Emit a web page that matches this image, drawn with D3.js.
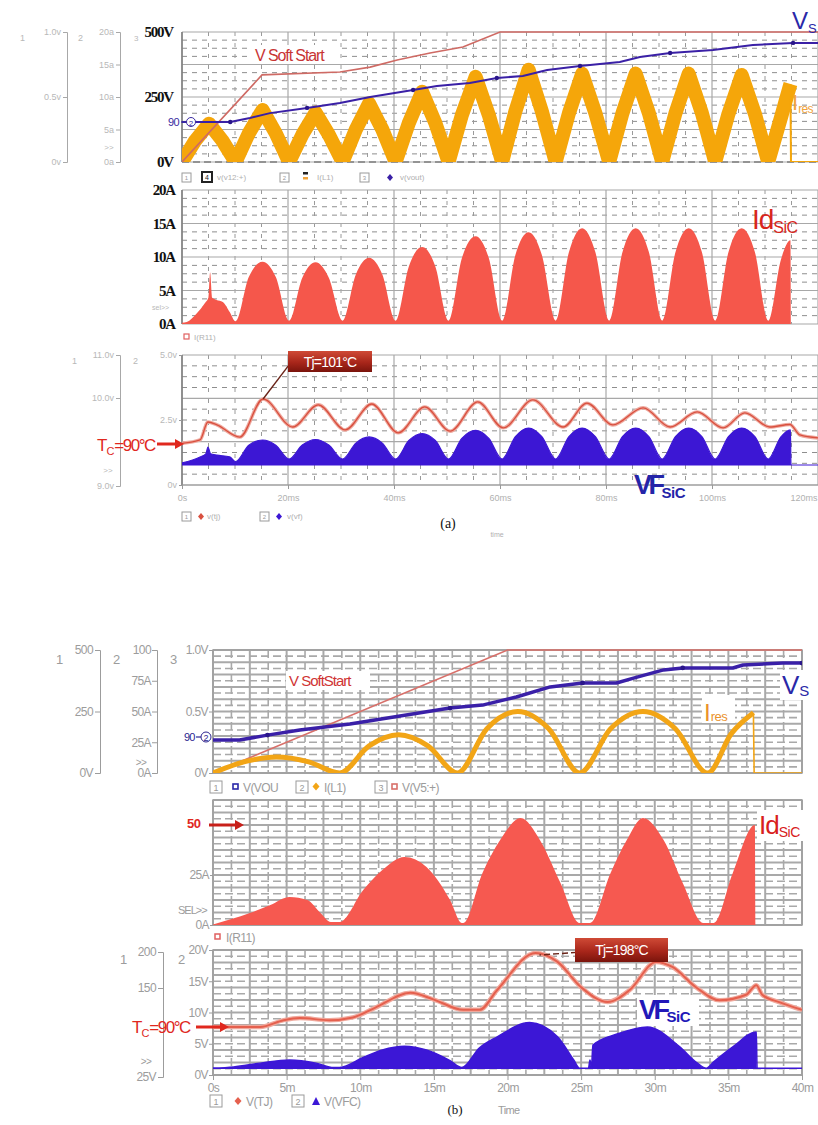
<!DOCTYPE html>
<html><head><meta charset="utf-8">
<script src="https://cdn.jsdelivr.net/npm/d3@7/dist/d3.min.js"></script>
<style>
html,body{margin:0;padding:0;background:#fff;}
svg{display:block;}
</style></head>
<body>
<svg id="fig" width="818" height="1125" xmlns="http://www.w3.org/2000/svg"></svg>
<script>
// ---------------- time-axis ticks ----------------
const ticksA = [0, 20, 40, 60, 80, 100, 120];          // ms, panel (a)
const ticksB = [0, 5, 10, 15, 20, 25, 30, 35, 40];     // ms, panel (b)

// ---------------- panel (a): [time ms, value] ----------------
const softStartA = [[0,0],[15.1,335],[29.8,346],[35.5,365],[40.6,392],[46.8,419],[53,442],[60,500],[120,500]]; // V
const vsA = [[0,154],[9.1,154],[12.8,169],[16.6,188],[23.6,208],[29.8,227],[35.5,250],[43.6,277],[48.1,292],[54.3,304],[59.4,323],[64.3,331],[68.9,354],[75.1,369],[82.6,385],[86.4,404],[92.1,419],[100.2,431],[107.7,450],[115.3,458],[120,458]]; // V
const iresA = [[0,0],[2.5,3.3],[5.1,5.9],[7.6,3.3],[10.1,0],[12.6,4.4],[15.2,8.0],[17.7,4.4],[20.2,0],[22.7,4.2],[25.2,7.6],[27.7,4.2],[30.3,0],[32.8,5.0],[35.3,9.0],[37.8,5.0],[40.3,0],[42.8,6.0],[45.3,10.8],[47.8,6.0],[50.3,0],[52.8,7.2],[55.4,13.1],[57.9,7.2],[60.4,0],[62.9,7.8],[65.4,14.2],[67.9,7.8],[70.5,0],[73.0,7.5],[75.5,13.6],[78.0,7.5],[80.6,0],[83.1,7.5],[85.6,13.6],[88.1,7.5],[90.6,0],[93.1,7.5],[95.6,13.6],[98.1,7.5],[100.6,0],[103.1,7.4],[105.6,13.4],[108.1,7.4],[110.6,0],[113.0,6.8],[114.8,12.0]]; // A envelope
const iresTailA = [[114.8,12.0],[114.9,0],[120,0]]; // A
const idA = [[0,0.2],[0.9,0.3],[2.8,1.6],[4.3,3.1],[5.0,4.0],[5.3,7.7],[5.7,3.9],[6.5,3.6],[7.7,3.3],[9.0,1.8],[10.1,0.4],[12.6,7.0],[15.2,9.3],[17.7,7.0],[20.2,0.5],[22.7,6.9],[25.2,9.2],[27.7,6.9],[30.3,0.5],[32.8,7.4],[35.3,9.9],[37.8,7.4],[40.3,0.5],[42.8,8.6],[45.3,11.5],[47.8,8.6],[50.3,0.5],[52.8,9.8],[55.4,13.1],[57.9,9.8],[60.4,0.5],[62.9,10.3],[65.4,13.7],[67.9,10.3],[70.5,0.5],[73.0,10.7],[75.5,14.3],[78.0,10.7],[80.6,0.5],[83.1,10.7],[85.6,14.3],[88.1,10.7],[90.6,0.5],[93.1,10.7],[95.6,14.3],[98.1,10.7],[100.6,0.5],[103.1,10.7],[105.6,14.3],[108.1,10.7],[110.6,0.5],[113.0,9.6],[114.8,12.5],[114.9,0],[120,0]]; // A
const vfA = [[0,0.85],[3.4,1.08],[4.5,1.2],[4.9,1.46],[5.4,1.2],[6.6,1.15],[9.0,1.08],[10.1,0.9],[12.6,1.53],[15.2,1.73],[17.7,1.53],[20.2,1.0],[22.7,1.54],[25.2,1.75],[27.7,1.54],[30.3,1.0],[32.8,1.61],[35.3,1.85],[37.8,1.61],[40.3,1.0],[42.8,1.71],[45.3,1.98],[47.8,1.71],[50.3,1.0],[52.8,1.79],[55.4,2.1],[57.9,1.79],[60.4,1.0],[62.9,1.86],[65.4,2.19],[67.9,1.86],[70.5,1.0],[73.0,1.86],[75.5,2.19],[78.0,1.86],[80.6,1.0],[83.1,1.86],[85.6,2.19],[88.1,1.86],[90.6,1.0],[93.1,1.86],[95.6,2.19],[98.1,1.86],[100.6,1.0],[103.1,1.86],[105.6,2.19],[108.1,1.86],[110.6,1.0],[113.0,1.85],[114.8,2.12],[114.9,0.77],[120,0.77]]; // V
const vfBaseA = 0.77; // V
const tjA = [[0,90.4],[3.4,91.2],[4.9,95.5],[6.6,94.8],[10.9,91.9],[15.3,101],[20.9,94.3],[25.7,99.6],[30.8,93.6],[35.8,99.8],[40.8,92.9],[45.8,99.1],[50.6,93.3],[55.8,100.3],[60.6,94.1],[66.2,100.8],[71.9,94.3],[76.4,100.0],[81.3,94.8],[87.0,98.9],[92.1,94.3],[97.2,97.9],[102.1,94.1],[106.2,97.7],[110.9,94.3],[114.7,94.9],[116.6,92.4],[120,91.7]]; // degC
const tjPeakA = 101, tcA = 90;

// ---------------- panel (b): [time ms, value] ----------------
const softStartB = [[0,0],[20,1.0],[40,1.0]]; // V
const vsB = [[0,134],[1.8,134],[3.7,154],[5.9,175],[9.3,199],[12.7,232],[16.1,264],[18.3,276],[20.6,309],[22.9,350],[25.1,366],[27.4,366],[28.8,390],[30.6,419],[31.9,427],[35.3,427],[36.0,439],[38.7,447],[40,447]]; // V
const iresB = [[0,0],[2.1,9],[4.3,13],[6.5,9],[8.6,0],[10.6,22],[12.6,31],[14.6,22],[16.6,0],[18.6,36],[20.7,50],[22.8,36],[24.9,0],[27.0,36],[29.2,50],[31.4,36],[33.6,0],[35.2,32],[36.7,49]]; // A
const iresTailB = [[36.7,49],[36.75,0],[40,0]]; // A
const idB = [[0,0.3],[2.5,6],[3.9,10],[5.2,14],[6.4,12.5],[7.3,6],[8.0,1.5],[8.6,1.5],[10.2,17.5],[11.5,27.5],[13.0,34],[14.5,29],[16.1,12.5],[16.9,1],[17.0,1],[18.3,26],[19.5,42.5],[20.9,53.5],[22.2,42.5],[23.6,21],[24.9,1],[25.6,1],[27.0,26],[28.1,42.5],[29.2,53.5],[30.6,42.5],[31.9,21],[33.3,1],[34.0,1],[35.3,26],[36.8,50],[36.85,0],[40,0]]; // A
const vfB = [[0,1.1],[1.4,1.3],[3.2,1.9],[5.2,2.4],[7.0,1.9],[8.2,1.2],[8.6,1.2],[10.2,2.8],[11.5,4.0],[13.0,4.6],[14.5,4.0],[16.1,2.3],[16.9,1.2],[18.1,4.35],[19.3,6.1],[21.5,8.4],[23.4,6.1],[24.5,2.4],[24.9,1.1],[25.5,1.1],[25.6,2.4],[25.7,1.2],[25.8,4.8],[27.5,6.6],[29.5,7.7],[31.7,4.5],[32.9,1.9],[33.5,1.1],[34.0,2.1],[35.3,4.5],[36.9,6.9],[36.95,1.1],[40,1.1]]; // V
const vfBaseB = 1.1; // V
const tjB = [[0,90],[3.2,90],[4.8,100],[5.9,103],[7.9,100],[9.5,104],[11,118],[13.4,140],[15,130],[17,115],[18.1,115],[19.3,144],[21.9,198],[23.4,185],[25,148],[26.8,126.5],[28.3,144],[30.1,185],[31.2,177.6],[32.8,148],[34.4,129],[36.2,137],[36.9,151],[37.3,137],[38.5,126],[40,115]]; // degC
const tjPeakB = 198, tcB = 90, idMarkB = 50;

// ---------------- helpers ----------------
const SANS = "'Liberation Sans', Arial, Helvetica, sans-serif";
const SERIF = "'Liberation Serif', 'Times New Roman', serif";
const svg = d3.select('#fig');
const defs = svg.append('defs');
let clipN = 0;
function clipRect(x0, y0, x1, y1) {
  const id = 'clip' + (clipN++);
  defs.append('clipPath').attr('id', id).append('rect')
    .attr('x', x0).attr('y', y0).attr('width', x1 - x0).attr('height', y1 - y0);
  return 'url(#' + id + ')';
}
const grad = defs.append('linearGradient').attr('id', 'tjBox').attr('x1', 0).attr('y1', 0).attr('x2', 0).attr('y2', 1);
grad.append('stop').attr('offset', '0%').attr('stop-color', '#cf4a36');
grad.append('stop').attr('offset', '55%').attr('stop-color', '#a8261a');
grad.append('stop').attr('offset', '100%').attr('stop-color', '#7a140c');

function line(g, x1, y1, x2, y2, st) {
  return g.append('line').attr('x1', x1).attr('y1', y1).attr('x2', x2).attr('y2', y2)
    .attr('stroke', st.c).attr('stroke-width', st.w).attr('stroke-dasharray', st.d || null);
}
function grid(g, xs, ys, xMaj, xMin, yMaj, yMin, stMaj, stMinH, stMinV) {
  const [x0, x1] = xs.range();
  const yTop = ys.range()[1], yBot = ys.range()[0];
  yMin.forEach(v => line(g, x0, ys(v), x1, ys(v), stMinH));
  xMin.forEach(v => line(g, xs(v), yTop, xs(v), yBot, stMinV));
  yMaj.forEach(v => line(g, x0, ys(v), x1, ys(v), stMaj));
  xMaj.forEach(v => line(g, xs(v), yTop, xs(v), yBot, stMaj));
}
function styleAxis(g, o) {
  g.selectAll('text').attr('fill', o.fill).style('font-family', o.font || SANS)
    .style('font-size', (o.size || 9) + 'px').style('font-weight', o.weight || 'normal')
    .style('letter-spacing', (o.ls || 0) + 'px');
  g.selectAll('.tick line').attr('stroke', o.line || o.fill);
  g.select('.domain').attr('stroke', o.domain === false ? 'none' : (o.line || o.fill)).attr('stroke-width', o.dw || 1);
}
function rich(g, x, y, parts, fill, o = {}) {
  const t = g.append('text').attr('x', x).attr('y', y).attr('fill', fill)
    .style('font-family', o.font || SANS).style('font-weight', o.weight || 'normal');
  parts.forEach(p => t.append('tspan').attr('dy', p.dy || 0).style('font-size', p.size + 'px')
    .style('letter-spacing', (p.ls || 0) + 'px').text(p.t));
  if (o.sx) t.attr('transform', `translate(${x},${y}) scale(${o.sx},1) translate(${-x},${-y})`);
  return t;
}
function txt(g, x, y, s, o) {
  return g.append('text').attr('x', x).attr('y', y).attr('fill', o.fill || '#999')
    .attr('text-anchor', o.anchor || 'start')
    .style('font-family', o.font || SANS).style('font-size', (o.size || 9) + 'px')
    .style('font-weight', o.weight || 'normal').style('letter-spacing', (o.ls || 0) + 'px').text(s);
}
function arrow(g, x1, x2, y, color, w) {
  line(g, x1, y, x2 - 7, y, { c: color, w: w });
  g.append('path').attr('d', `M${x2 - 9},${y - 5}L${x2},${y}L${x2 - 9},${y + 5}Z`).attr('fill', color);
}
function tjLabel(g, x, y, w, h, s, lx, ly, dashed) {
  g.append('path').attr('d', `M${x + 2},${y + h * 0.6}L${lx},${ly}`).attr('fill', 'none')
    .attr('stroke', '#6a2418').attr('stroke-width', 1.4).attr('stroke-dasharray', dashed ? '6,3' : null);
  g.append('rect').attr('x', x).attr('y', y).attr('width', w).attr('height', h).attr('fill', 'url(#tjBox)');
  g.append('text').attr('x', x + w / 2).attr('y', y + h / 2 + 5).attr('text-anchor', 'middle')
    .attr('fill', '#fff').style('font-family', SANS).style('font-size', '14px')
    .style('letter-spacing', '-0.8px').text(s);
}
function legendBox(g, x, y, s, size, o = {}) {
  g.append('rect').attr('x', x).attr('y', y).attr('width', size).attr('height', size)
    .attr('fill', '#fff').attr('stroke', o.stroke || '#9a9a9a').attr('stroke-width', o.sw || 1);
  txt(g, x + size / 2, y + size - 2, s, { anchor: 'middle', size: size - 3, fill: o.fill || '#9a9a9a' });
}

// =====================================================================
// Panel (a)
// =====================================================================
const xA = d3.scaleLinear().domain([0, 120]).range([182, 818]);
const yVA = d3.scaleLinear().domain([0, 500]).range([162, 32]);
const yIA = d3.scaleLinear().domain([0, 20]).range([162, 32]);
const yIdA = d3.scaleLinear().domain([0, 20]).range([324, 190]);
const yVFA = d3.scaleLinear().domain([0, 5]).range([485, 355]);
const yTjA = d3.scaleLinear().domain([tcA, tjPeakA]).range([445, 399]);

const majA = { c: '#a8a8a8', w: 1.2 };
const minHA = { c: '#8e8e8e', w: 1, d: '5,5' };
const minVA = { c: '#9a9a9a', w: 1, d: '4,7' };
const xMajA = d3.range(0, 121, 20), xMinA = d3.range(5, 120, 5).filter(v => v % 20 !== 0);
function subs(maj, n) { const out = []; for (let i = 0; i < maj.length - 1; i++) for (let k = 1; k < n; k++) out.push(maj[i] + (maj[i + 1] - maj[i]) * k / n); return out; }

// --- top plot (a) ---
{
  const g = svg.append('g');
  const yMaj = [0, 125, 250, 375, 500];
  grid(g, xA, yVA, xMajA, xMinA, yMaj, subs(yMaj, 4), majA, minHA, minVA);
  line(g, 182, 32, 182, 162, { c: '#777', w: 1.4 });
  line(g, 182, 162, 818, 162, { c: '#555', w: 1.2, d: '7,4' });
  const cp = clipRect(182, 29, 818, 162);
  const pg = g.append('g').attr('clip-path', cp);
  const lnI = d3.line().x(d => xA(d[0])).y(d => yIA(d[1]));
  pg.append('path').datum(iresA).attr('d', lnI).attr('fill', 'none').attr('stroke', '#f5a60a')
    .attr('stroke-width', 14).attr('stroke-linejoin', 'round');
  pg.append('path').datum(iresTailA).attr('d', d3.line().x(d => xA(d[0])).y(d => yIA(d[1])))
    .attr('fill', 'none').attr('stroke', '#f5a60a').attr('stroke-width', 2);
  pg.append('path').datum(softStartA).attr('d', d3.line().x(d => xA(d[0])).y(d => yVA(d[1])))
    .attr('fill', 'none').attr('stroke', '#cf6a64').attr('stroke-width', 1.6);
  pg.append('path').datum(vsA).attr('d', d3.line().x(d => xA(d[0])).y(d => yVA(d[1])))
    .attr('fill', 'none').attr('stroke', '#3a20a6').attr('stroke-width', 2);
  pg.selectAll('circle.vm').data(vsA.filter((d, i) => i % 3 === 1)).enter().append('circle')
    .attr('cx', d => xA(d[0])).attr('cy', d => yVA(d[1])).attr('r', 2.2).attr('fill', '#2a168a');

  // main axis labels (volts)
  svg.append('g').attr('transform', 'translate(182,0)')
    .call(d3.axisLeft(yVA).tickValues([0, 250, 500]).tickFormat(d => d + 'V').tickSize(0).tickPadding(9))
    .call(styleAxis, { fill: '#111', font: SERIF, size: 15, weight: 'bold', ls: -1.2, domain: false });

  // auxiliary left axes
  const ax1 = d3.scaleLinear().domain([0, 1]).range([162, 32]);
  svg.append('g').attr('transform', 'translate(67,0)')
    .call(d3.axisLeft(ax1).tickValues([0, 0.5, 1]).tickFormat(d => d === 0 ? '0v' : d.toFixed(1) + 'v').tickSize(4).tickSizeOuter(4).tickPadding(2))
    .call(styleAxis, { fill: '#b8b8b8', line: '#a8a8a8', size: 9 });
  svg.append('g').attr('transform', 'translate(120,0)')
    .call(d3.axisLeft(yIA).tickValues([0, 5, 10, 15, 20]).tickFormat(d => d + 'a').tickSize(4).tickSizeOuter(4).tickPadding(2))
    .call(styleAxis, { fill: '#b8b8b8', line: '#a8a8a8', size: 9 });
  txt(svg, 109, 150, '>>', { fill: '#b8b8b8', size: 8, anchor: 'middle' });
  txt(svg, 20, 41, '1', { fill: '#b8b8b8', size: 9 });
  txt(svg, 78, 41, '2', { fill: '#b8b8b8', size: 9 });
  txt(svg, 134, 41, '3', { fill: '#b8b8b8', size: 8 });
  txt(svg, 168, 126, '90', { fill: '#3a2aa0', size: 11, ls: -0.5 });
  line(svg, 181, 122, 186, 122, { c: '#3a2aa0', w: 1.2 });
  svg.append('circle').attr('cx', 191).attr('cy', 122).attr('r', 4.5).attr('fill', '#fff').attr('stroke', '#3a2aa0').attr('stroke-width', 1);
  txt(svg, 191, 125.5, '2', { fill: '#3a2aa0', size: 8, anchor: 'middle' });

  // trace labels
  g.append('rect').attr('x', 252).attr('y', 45).attr('width', 88).attr('height', 19).attr('fill', '#fff');
  txt(g, 255, 61, 'V Soft Start', { fill: '#c83434', size: 16, ls: -1.1 });
  rich(svg, 792, 29, [{ t: 'V', size: 24 }, { t: 'S', size: 13, dy: 4 }], '#2a28a8');
  rich(svg, 792, 110, [{ t: 'I', size: 22 }, { t: 'res', size: 12, dy: 3, ls: -0.6 }], '#f1a33a');

  // legend row
  const lg = svg.append('g');
  legendBox(lg, 182, 173, '1', 9);
  legendBox(lg, 202, 172, '4', 10, { stroke: '#222', sw: 2, fill: '#222' });
  txt(lg, 217, 180, 'v(v12:+)', { fill: '#b0b0b0', size: 8 });
  legendBox(lg, 280, 173, '2', 9);
  lg.append('rect').attr('x', 303).attr('y', 172).attr('width', 5).attr('height', 2.5).attr('fill', '#222');
  lg.append('rect').attr('x', 303).attr('y', 177).attr('width', 5).attr('height', 2.5).attr('fill', '#f1a33a');
  txt(lg, 317, 180, 'I(L1)', { fill: '#b0b0b0', size: 8 });
  legendBox(lg, 360, 173, '3', 9);
  lg.append('path').attr('d', 'M390,174L393,177.5L390,181L387,177.5Z').attr('fill', '#3a20a6');
  txt(lg, 400, 180, 'v(vout)', { fill: '#b0b0b0', size: 8 });
}

// --- middle plot (a) ---
{
  const g = svg.append('g');
  const yMaj = [0, 5, 10, 15, 20];
  grid(g, xA, yIdA, xMajA, xMinA, yMaj, subs(yMaj, 4), majA, minHA, minVA);
  line(g, 182, 190, 182, 324, { c: '#777', w: 1.4 });
  const pg = g.append('g').attr('clip-path', clipRect(182, 190, 818, 324));
  pg.append('path').datum(idA)
    .attr('d', d3.area().x(d => xA(d[0])).y0(yIdA(0)).y1(d => yIdA(d[1])).curve(d3.curveMonotoneX))
    .attr('fill', '#f5574b');
  svg.append('g').attr('transform', 'translate(182,0)')
    .call(d3.axisLeft(yIdA).tickValues([0, 5, 10, 15, 20]).tickFormat(d => d + 'A').tickSize(0).tickPadding(7))
    .call(styleAxis, { fill: '#111', font: SERIF, size: 15, weight: 'bold', ls: -1.2, domain: false });
  txt(svg, 152, 310, 'sel>>', { fill: '#b8b8b8', size: 7 });
  rich(svg, 752, 229, [{ t: 'Id', size: 28, ls: -1 }, { t: 'SiC', size: 16, dy: 4, ls: -0.5 }], '#d8261c');
  svg.append('rect').attr('x', 184).attr('y', 334).attr('width', 5).attr('height', 5).attr('fill', '#fff').attr('stroke', '#e06060').attr('stroke-width', 1.2);
  txt(svg, 194, 340, 'I(R11)', { fill: '#b0b0b0', size: 8 });
}

// --- bottom plot (a) ---
{
  const g = svg.append('g');
  const yMaj = [0, 5 / 3, 10 / 3, 5];
  grid(g, xA, yVFA, xMajA, xMinA, yMaj, subs(yMaj, 4), majA, minHA, minVA);
  line(g, 182, 355, 182, 485, { c: '#777', w: 1.4 });
  line(g, 182, 485, 818, 485, { c: '#999', w: 1 });
  const pg = g.append('g').attr('clip-path', clipRect(182, 355, 818, 485));
  pg.append('path').datum(vfA)
    .attr('d', d3.area().x(d => xA(d[0])).y0(yVFA(vfBaseA)).y1(d => yVFA(d[1])).curve(d3.curveMonotoneX))
    .attr('fill', '#3c17d4').attr('stroke', '#3c17d4').attr('stroke-width', 1.2);
  const lnT = d3.line().x(d => xA(d[0])).y(d => yTjA(d[1])).curve(d3.curveMonotoneX);
  pg.append('path').datum(tjA).attr('d', lnT).attr('fill', 'none').attr('stroke', '#eeaaa0').attr('stroke-width', 3.5);
  pg.append('path').datum(tjA).attr('d', lnT).attr('fill', 'none').attr('stroke', '#d9503f').attr('stroke-width', 1.3);

  // axis 2 (volts) and axis 1 (temperature as volts)
  svg.append('g').attr('transform', 'translate(182,0)')
    .call(d3.axisLeft(yVFA).tickValues([0, 2.5, 5]).tickFormat(d => d === 0 ? '0v' : d.toFixed(1) + 'v').tickSize(3).tickPadding(2))
    .call(styleAxis, { fill: '#b8b8b8', line: '#999', size: 9, domain: false });
  const ax1 = d3.scaleLinear().domain([9, 10, 11]).range([486, 398, 355]);
  svg.append('g').attr('transform', 'translate(120,0)')
    .call(d3.axisLeft(ax1).tickValues([9, 10, 11]).tickFormat(d => d.toFixed(1) + 'v').tickSize(4).tickSizeOuter(4).tickPadding(2))
    .call(styleAxis, { fill: '#b8b8b8', line: '#a8a8a8', size: 9 });
  txt(svg, 108, 473, '>>', { fill: '#b8b8b8', size: 8, anchor: 'middle' });
  txt(svg, 72, 364, '1', { fill: '#b8b8b8', size: 9 });
  txt(svg, 133, 364, '2', { fill: '#b8b8b8', size: 9 });

  // time axis; the last label is right-aligned to stay inside the figure
  const xa = svg.append('g').attr('transform', 'translate(0,485)')
    .call(d3.axisBottom(xA).tickValues(ticksA).tickFormat(d => d === 0 ? '0s' : d + 'ms').tickSize(4).tickPadding(6))
    .call(styleAxis, { fill: '#b0b0b0', line: '#999', size: 9, domain: false });
  xa.selectAll('.tick').filter(d => d === ticksA[ticksA.length - 1]).select('text').attr('text-anchor', 'end').attr('x', -1);

  // case temperature marker
  rich(svg, 97, 451, [{ t: 'T', size: 17, ls: -1 }, { t: 'C', size: 11, dy: 4 }, { t: '=90°C', size: 17, dy: -4, ls: -1.5 }], '#e0281e');
  arrow(svg, 157, 184, yTjA(tcA) - 1, '#e0281e', 3);
  // junction temperature peak
  tjLabel(svg, 288, 351, 84, 21, 'Tj=' + tjPeakA + '°C', xA(15.3), yTjA(tjPeakA), false);

  rich(svg, 634, 494, [{ t: 'VF', size: 27, ls: -3.5 }, { t: 'SiC', size: 15, dy: 4, ls: -0.5 }], '#2424a8', { weight: 'bold' });

  const lg = svg.append('g');
  legendBox(lg, 182, 512, '1', 9);
  lg.append('path').attr('d', 'M201,513L204,516.5L201,520L198,516.5Z').attr('fill', '#d9503f');
  txt(lg, 207, 519, 'v(tj)', { fill: '#b0b0b0', size: 8 });
  legendBox(lg, 260, 512, '2', 9);
  lg.append('path').attr('d', 'M279,513L282,516.5L279,520L276,516.5Z').attr('fill', '#3c17d4');
  txt(lg, 287, 519, 'v(vf)', { fill: '#b0b0b0', size: 8 });

  txt(svg, 448, 528, '(a)', { fill: '#111', font: SERIF, size: 14, anchor: 'middle' });
  txt(svg, 497, 537, 'time', { fill: '#b0b0b0', size: 7, anchor: 'middle' });
}

// =====================================================================
// Panel (b)
// =====================================================================
const xB = d3.scaleLinear().domain([0, 40]).range([213, 802]);
const ySSB = d3.scaleLinear().domain([0, 1]).range([773, 650]);
const yVB = d3.scaleLinear().domain([0, 500]).range([773, 650]);
const yIB = d3.scaleLinear().domain([0, 100]).range([773, 650]);
const yIdB = d3.scaleLinear().domain([0, 62.5]).range([925, 800]);
const yVFB = d3.scaleLinear().domain([0, 20]).range([1075, 950]);
const yTjB = d3.scaleLinear().domain([tcB, tjPeakB]).range([1027, 953]);

const majB = { c: '#a9a9a9', w: 2 };
const minHB = { c: '#a9a9a9', w: 1.6, d: '8,4' };
const minVB = { c: '#a9a9a9', w: 1.6, d: '8,4' };
const xMajB = d3.range(0, 40.01, 2.5), xMinB = d3.range(1.25, 40, 2.5);
function gridB(g, ys) {
  const [d0, d1] = ys.domain();
  const maj = d3.range(0, 11).map(k => d0 + (d1 - d0) * k / 10);
  grid(g, xB, ys, xMajB, xMinB, maj, subs(maj, 2), majB, minHB, minVB);
}
function greyB(o = {}) { return Object.assign({ fill: '#9c9c9c', line: '#9c9c9c', size: 12, ls: -0.6 }, o); }

// --- top plot (b) ---
{
  const g = svg.append('g');
  gridB(g, ySSB);
  g.append('rect').attr('x', 213).attr('y', 650).attr('width', 589).attr('height', 123).attr('fill', 'none').attr('stroke', '#a0a0a0').attr('stroke-width', 1.5);
  const pg = g.append('g').attr('clip-path', clipRect(213, 648, 802, 773));
  pg.append('path').datum(softStartB).attr('d', d3.line().x(d => xB(d[0])).y(d => ySSB(d[1])))
    .attr('fill', 'none').attr('stroke', '#d8706a').attr('stroke-width', 1.6);
  pg.append('path').datum(iresB).attr('d', d3.line().x(d => xB(d[0])).y(d => yIB(d[1])).curve(d3.curveMonotoneX))
    .attr('fill', 'none').attr('stroke', '#f2a516').attr('stroke-width', 5).attr('stroke-linejoin', 'round');
  pg.append('path').datum(iresTailB).attr('d', d3.line().x(d => xB(d[0])).y(d => yIB(d[1])))
    .attr('fill', 'none').attr('stroke', '#f2a516').attr('stroke-width', 1.6);
  pg.append('path').datum(vsB).attr('d', d3.line().x(d => xB(d[0])).y(d => yVB(d[1])))
    .attr('fill', 'none').attr('stroke', '#3a20a8').attr('stroke-width', 3.5).attr('stroke-linejoin', 'round');
  pg.selectAll('circle.vm').data(vsB.filter((d, i) => i % 4 === 2)).enter().append('circle')
    .attr('cx', d => xB(d[0])).attr('cy', d => yVB(d[1])).attr('r', 2.4).attr('fill', '#2a168a');

  // left axes
  svg.append('g').attr('transform', 'translate(100,0)')
    .call(d3.axisLeft(yVB).tickValues([0, 250, 500]).tickFormat(d => d === 0 ? '0V' : d).tickSize(5).tickSizeOuter(5).tickPadding(2))
    .call(styleAxis, greyB());
  svg.append('g').attr('transform', 'translate(157,0)')
    .call(d3.axisLeft(yIB).tickValues([0, 25, 50, 75, 100]).tickFormat(d => d === 0 ? '0A' : (d === 100 ? '100' : d + 'A')).tickSize(5).tickSizeOuter(5).tickPadding(1))
    .call(styleAxis, greyB());
  txt(svg, 141, 766, '>>', greyB({ size: 10, anchor: 'middle' }));
  svg.append('g').attr('transform', 'translate(213,0)')
    .call(d3.axisLeft(ySSB).tickValues([0, 0.5, 1]).tickFormat(d => d === 0 ? '0V' : d.toFixed(1) + 'V').tickSize(4).tickPadding(1))
    .call(styleAxis, greyB({ domain: false }));
  txt(svg, 56, 664, '1', greyB({ size: 13 }));
  txt(svg, 113, 664, '2', greyB({ size: 13 }));
  txt(svg, 170, 664, '3', greyB({ size: 13 }));
  txt(svg, 184, 741, '90', { fill: '#2c2490', size: 11, ls: -0.8 });
  line(svg, 196, 737, 201, 737, { c: '#2c2490', w: 1.2 });
  svg.append('circle').attr('cx', 206).attr('cy', 737).attr('r', 5).attr('fill', '#fff').attr('stroke', '#2c2490').attr('stroke-width', 1);
  txt(svg, 206, 740.5, '2', { fill: '#2c2490', size: 9, anchor: 'middle' });

  // trace labels
  svg.append('rect').attr('x', 286).attr('y', 671).attr('width', 84).attr('height', 19).attr('fill', '#fff');
  txt(svg, 289, 686, 'V SoftStart', { fill: '#cf3434', size: 15, ls: -1 });
  svg.append('rect').attr('x', 780).attr('y', 670).attr('width', 38).attr('height', 30).attr('fill', '#fff');
  rich(svg, 782, 694, [{ t: 'V', size: 26 }, { t: 'S', size: 15, dy: 2 }], '#2a28a8');
  svg.append('rect').attr('x', 702).attr('y', 695).attr('width', 33).attr('height', 28).attr('fill', '#fff');
  rich(svg, 704, 721, [{ t: 'I', size: 24 }, { t: 'res', size: 13, dy: 0, ls: -0.5 }], '#ea922c');

  // legend row
  const lg = svg.append('g');
  legendBox(lg, 210, 781, '1', 12);
  lg.append('rect').attr('x', 233).attr('y', 784).attr('width', 5).attr('height', 5).attr('fill', '#fff').attr('stroke', '#2a28a8').attr('stroke-width', 1.6);
  txt(lg, 243, 792, 'V(VOU', greyB({ size: 12 }));
  legendBox(lg, 296, 781, '2', 12);
  lg.append('path').attr('d', 'M316,782.5L319.5,786.5L316,790.5L312.5,786.5Z').attr('fill', '#f2a516');
  txt(lg, 324, 792, 'I(L1)', greyB({ size: 12 }));
  legendBox(lg, 375, 781, '3', 12);
  lg.append('rect').attr('x', 392).attr('y', 784).attr('width', 5).attr('height', 5).attr('fill', '#fff').attr('stroke', '#d8706a').attr('stroke-width', 1.6);
  txt(lg, 402, 792, 'V(V5:+)', greyB({ size: 12 }));
}

// --- middle plot (b) ---
{
  const g = svg.append('g');
  gridB(g, yIdB);
  g.append('rect').attr('x', 213).attr('y', 800).attr('width', 589).attr('height', 125).attr('fill', 'none').attr('stroke', '#a0a0a0').attr('stroke-width', 1.5);
  const pg = g.append('g').attr('clip-path', clipRect(213, 800, 802, 925));
  pg.append('path').datum(idB)
    .attr('d', d3.area().x(d => xB(d[0])).y0(yIdB(0)).y1(d => yIdB(d[1])).curve(d3.curveMonotoneX))
    .attr('fill', '#f65950');
  svg.append('g').attr('transform', 'translate(213,0)')
    .call(d3.axisLeft(yIdB).tickValues([0, 25]).tickFormat(d => d + 'A').tickSize(3).tickPadding(1))
    .call(styleAxis, greyB({ domain: false }));
  txt(svg, 178, 914, 'SEL>>', greyB({ size: 11, ls: -1 }));
  txt(svg, 187, 828, String(idMarkB), { fill: '#e0281e', size: 13, weight: 'bold', ls: -0.5 });
  arrow(svg, 209, 244, yIdB(idMarkB), '#c8201a', 3);
  svg.append('rect').attr('x', 757).attr('y', 810).attr('width', 52).attr('height', 31).attr('fill', '#fff');
  rich(svg, 759, 834, [{ t: 'Id', size: 26, ls: -1 }, { t: 'SiC', size: 14, dy: 3, ls: -0.5 }], '#d8201c');
  svg.append('rect').attr('x', 215).attr('y', 934).attr('width', 5).attr('height', 5).attr('fill', '#fff').attr('stroke', '#e06060').attr('stroke-width', 1.5);
  txt(svg, 226, 942, 'I(R11)', greyB({ size: 12 }));
}

// --- bottom plot (b) ---
{
  const g = svg.append('g');
  gridB(g, yVFB);
  g.append('rect').attr('x', 213).attr('y', 950).attr('width', 589).attr('height', 125).attr('fill', 'none').attr('stroke', '#a0a0a0').attr('stroke-width', 1.5);
  const pg = g.append('g').attr('clip-path', clipRect(213, 950, 802, 1075));
  pg.append('path').datum(vfB)
    .attr('d', d3.area().x(d => xB(d[0])).y0(yVFB(vfBaseB)).y1(d => yVFB(d[1])).curve(d3.curveMonotoneX))
    .attr('fill', '#3c17d6').attr('stroke', '#3c17d6').attr('stroke-width', 1.5);
  const lnT = d3.line().x(d => xB(d[0])).y(d => yTjB(d[1])).curve(d3.curveMonotoneX);
  pg.append('path').datum(tjB).attr('d', lnT).attr('fill', 'none').attr('stroke', '#f0a89c').attr('stroke-width', 4.5);
  pg.append('path').datum(tjB).attr('d', lnT).attr('fill', 'none').attr('stroke', '#e5604e').attr('stroke-width', 2);

  svg.append('g').attr('transform', 'translate(213,0)')
    .call(d3.axisLeft(yVFB).tickValues([0, 5, 10, 15, 20]).tickFormat(d => d + 'V').tickSize(4).tickPadding(1))
    .call(styleAxis, greyB({ domain: false }));
  const ax1 = d3.scaleLinear().domain([25, 150, 200]).range([1077, 988, 952]);
  svg.append('g').attr('transform', 'translate(163,0)')
    .call(d3.axisLeft(ax1).tickValues([25, 150, 200]).tickFormat(d => d === 25 ? '25V' : d).tickSize(5).tickSizeOuter(5).tickPadding(2))
    .call(styleAxis, greyB());
  txt(svg, 146, 1065, '>>', greyB({ size: 10, anchor: 'middle' }));
  txt(svg, 120, 964, '1', greyB({ size: 13 }));
  txt(svg, 178, 964, '2', greyB({ size: 13 }));

  svg.append('g').attr('transform', 'translate(0,1075)')
    .call(d3.axisBottom(xB).tickValues(ticksB).tickFormat(d => d === 0 ? '0s' : d + 'm').tickSize(5).tickPadding(3))
    .call(styleAxis, greyB({ domain: false }));

  rich(svg, 132, 1033, [{ t: 'T', size: 17, ls: -1 }, { t: 'C', size: 11, dy: 4 }, { t: '=90°C', size: 17, dy: -4, ls: -1.5 }], '#e0281e');
  arrow(svg, 196, 229, yTjB(tcB), '#e0281e', 3);
  tjLabel(svg, 575, 938, 93, 24, 'Tj=' + tjPeakB + '°C', xB(21.9) + 4, yTjB(tjPeakB) + 2, true);

  svg.append('rect').attr('x', 637).attr('y', 995).attr('width', 62).attr('height', 31).attr('fill', '#fff');
  rich(svg, 639, 1019, [{ t: 'VF', size: 27, ls: -3.5 }, { t: 'SiC', size: 15, dy: 3, ls: -0.5 }], '#2218b8', { weight: 'bold' });

  const lg = svg.append('g');
  legendBox(lg, 210, 1095, '1', 12);
  lg.append('path').attr('d', 'M238,1097L241.5,1101L238,1105L234.5,1101Z').attr('fill', '#e5604e');
  txt(lg, 246, 1106, 'V(TJ)', greyB({ size: 12 }));
  legendBox(lg, 292, 1095, '2', 12);
  lg.append('path').attr('d', 'M316,1097L320,1105L312,1105Z').attr('fill', '#3c17d6');
  txt(lg, 324, 1106, 'V(VFC)', greyB({ size: 12 }));

  txt(svg, 455, 1114, '(b)', { fill: '#111', font: SERIF, size: 13, anchor: 'middle' });
  txt(svg, 498, 1114, 'Time', greyB({ size: 11 }));
}
</script>
</body></html>
